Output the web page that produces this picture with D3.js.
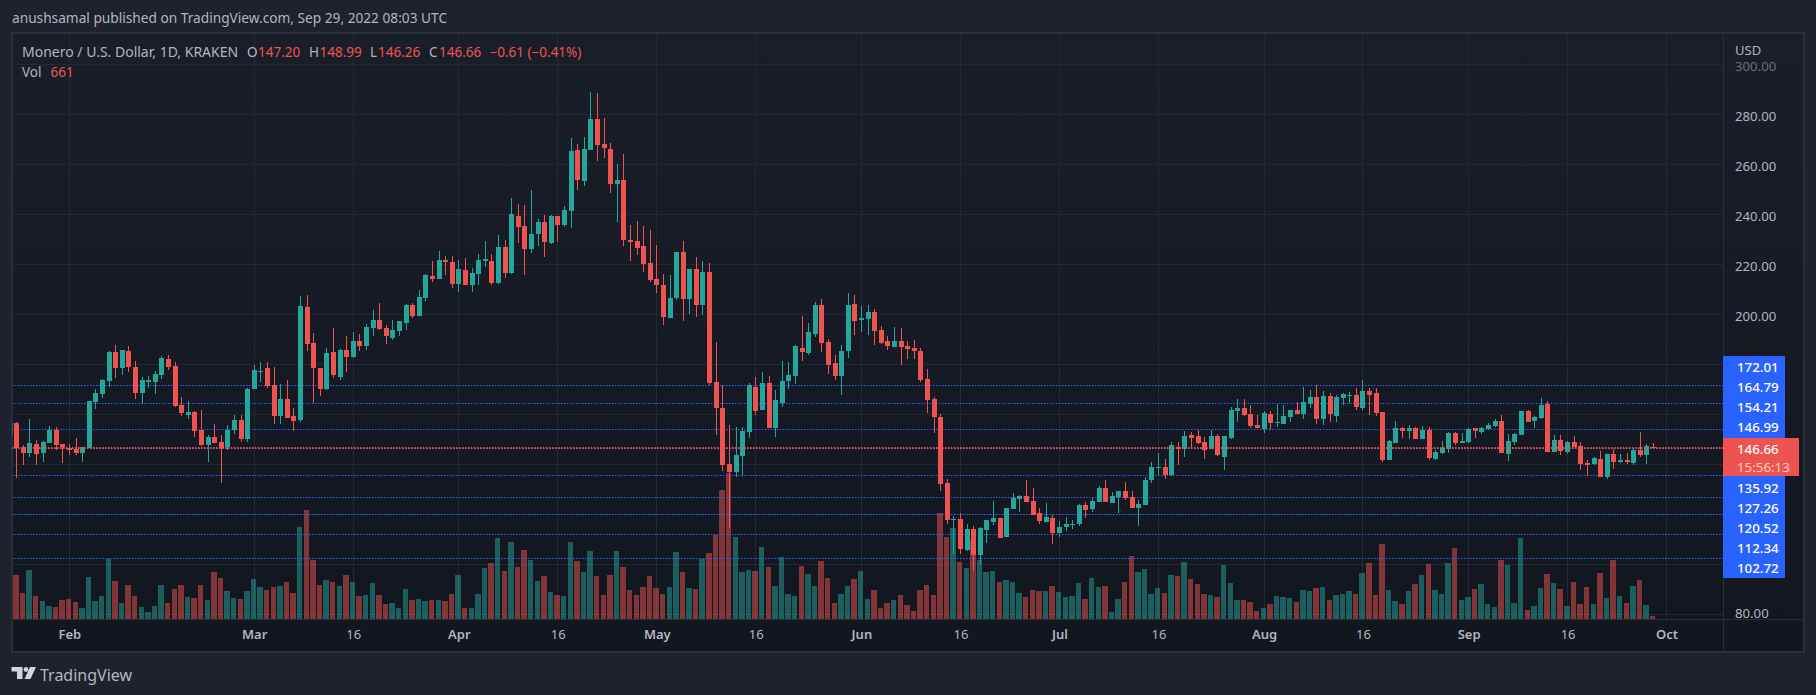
<!DOCTYPE html>
<html>
<head>
<meta charset="utf-8">
<script src="https://cdn.jsdelivr.net/npm/d3@7"></script>
<style>
  html, body { margin: 0; padding: 0; background: #1e222d; overflow: hidden; }
  text { font-family: "Noto Sans", sans-serif; }
</style>
</head>
<body>
<svg id="chart" width="1816" height="695"></svg>
<script>
// daily candles, first one is Jan 23 2022 (only a sliver of it shows)
var opens = [
  152, 156.8, 147.2, 144.8, 148.4, 144.8, 148.8, 154, 148.4, 146.8,
  146.4, 144.8, 146.8, 165.2, 168.4, 173.6, 185.2, 178.8, 185.6, 179.2,
  168.8, 173.2, 173.2, 176, 182.4, 179.6, 164, 160, 161.2, 154,
  148, 151.2, 149.2, 147.2, 154, 158, 150.4, 170.4, 177.2, 178.8,
  172, 159.6, 166.4, 159.6, 158, 203.2, 188.8, 178.8, 170.4, 185.2,
  175.2, 186, 183.2, 189.6, 187.6, 194.8, 198, 194.8, 190.8, 193.6,
  196.8, 204, 199.6, 206.8, 215.6, 214.4, 222, 221.2, 212.4, 218,
  212, 216.4, 221.6, 221.6, 212.8, 227.2, 216.8, 239.6, 235.6, 226.4,
  232.4, 237.2, 228.8, 239.6, 236, 241.6, 266, 253.6, 266, 278.4,
  268.4, 266.4, 252.4, 254, 230, 229.6, 227.6, 220.8, 214.4, 212,
  198.8, 206.8, 225.2, 206.4, 218.4, 204, 217.2, 173.2, 162.8, 140.4,
  137.2, 143.6, 153.2, 171.2, 162, 172.8, 154.8, 164.7, 173.6, 175.6,
  186.8, 184.8, 192.4, 204, 189.2, 180.8, 175.6, 185.6, 204.4, 198,
  198.4, 201.2, 194, 189.6, 187.2, 189.6, 187.6, 186.8, 185.6, 174.4,
  166.4, 159.2, 132.8, 118, 118.4, 106, 114.4, 104, 114, 117.2,
  118.8, 111.2, 122.4, 126.4, 127.6, 125.6, 120.8, 117.2, 118.8, 112.8,
  115.2, 116, 116.4, 124, 122.4, 125.2, 130.8, 124.8, 127.2, 129.6,
  127.2, 122.8, 124, 134, 138.8, 139.2, 136, 147.2, 146.4, 152,
  151.6, 149.2, 146.4, 151.6, 143.2, 150.8, 161.6, 162.8, 160.4, 156,
  154.4, 160.4, 156.8, 156.4, 159.2, 162, 160.4, 164.4, 167.2, 158.4,
  167.6, 159.6, 166.8, 167.6, 168, 162.8, 169.6, 168.8, 161.2, 142,
  148.8, 154.8, 153.6, 154.8, 150.4, 154, 142.4, 144.8, 146.4, 152.8,
  148.8, 149.2, 154.8, 153.2, 154.4, 155.6, 157.6, 144.4, 149.2, 152,
  161.6, 157.6, 158.8, 164.4, 145.2, 150, 145.2, 149.2, 147.6, 140.8,
  140.4, 142.4, 135.2, 144.4, 141.2, 142, 140.8, 146, 144, 147.2
];
var closes = [
  156.8, 146.7, 144.8, 148.8, 144.4, 149.2, 154, 148, 147.2, 146,
  144.8, 147.2, 165.6, 168.8, 174, 185.2, 178.8, 186, 179.2, 168.8,
  174, 174, 176.4, 182.8, 179.2, 163.6, 160.8, 161.2, 153.6, 148,
  151.2, 148.8, 146.8, 154, 158, 150.4, 170.4, 178, 177.6, 171.6,
  159.6, 166.4, 158.8, 157.6, 203.6, 188.4, 178.8, 170.4, 184.8, 176,
  186, 183.2, 189.6, 187.6, 195.2, 198, 194.4, 191.6, 194, 197.6,
  204, 199.6, 207.2, 216, 214.4, 222, 221.2, 212.4, 218.4, 212,
  216.8, 222, 222.4, 212.8, 227.2, 216.8, 240.4, 235.2, 226.4, 232.4,
  237.2, 229.2, 239.6, 236, 242, 265.6, 254, 266.4, 278.4, 268,
  266.8, 252.4, 254, 230, 229.2, 226.8, 220.4, 214, 212, 199.2,
  206.8, 225.2, 206.4, 218.4, 204, 217.2, 172.8, 162.8, 140, 137.2,
  144, 153.6, 172, 161.6, 172.8, 154.8, 166, 173.6, 176, 187.6,
  185.2, 193.2, 204, 188.8, 180, 175.6, 185.6, 204, 197.6, 198.8,
  201.2, 193.6, 188.8, 187.6, 189.6, 187.2, 186.4, 185.6, 174, 166,
  159.2, 132.4, 118, 118.4, 106.4, 114.4, 104, 114.8, 118, 118.8,
  110.8, 122.8, 126.8, 127.6, 125.2, 120, 117.6, 119.2, 112.8, 115.2,
  116.4, 116.4, 124, 122, 125.6, 130.8, 125.2, 127.6, 129.6, 126.8,
  122.8, 124.4, 134, 139.2, 139.2, 136, 148, 146.4, 151.6, 150.8,
  148.8, 146, 151.6, 144, 151.6, 162, 162.8, 160, 155.6, 154.8,
  160.8, 156.8, 157.2, 159.6, 162, 160.4, 165.2, 167.2, 158.4, 167.6,
  160.4, 167.2, 168.4, 168, 163.2, 169.6, 168, 160.8, 142, 149.6,
  154.8, 153.6, 154.8, 150.4, 154, 142.8, 145.2, 146.8, 152.8, 148.8,
  149.6, 154.4, 153.6, 154.8, 156, 157.6, 144.8, 149.6, 152.4, 161.6,
  157.2, 159.2, 164, 145.2, 150, 145.6, 149.2, 147.2, 140.4, 140,
  142.8, 135.2, 144.4, 141.2, 142, 141.2, 146, 144, 147.6, 146.66
];
var highs = [
  157.5, 157.2, 148, 158.4, 150, 149.6, 155.6, 155.2, 148.4, 148.4,
  150.8, 147.2, 165.6, 170.4, 174.4, 185.6, 188, 186, 187.6, 181.6,
  175.2, 175.6, 177.6, 183.6, 184, 181.2, 167.2, 165.6, 161.6, 162,
  152, 156.4, 152, 156, 160, 160, 170.8, 180, 181.2, 181.2,
  179.2, 172.4, 174, 162.8, 207.6, 208, 192.8, 178.8, 186.8, 194.8,
  186.4, 191.6, 193.2, 192.4, 196.4, 202, 204.8, 196, 198, 197.6,
  204.4, 204.8, 210, 216.4, 221.6, 225.6, 223.6, 223.6, 222, 222.8,
  218.8, 224.4, 229.6, 224.4, 232, 230, 246.8, 244.4, 244, 250,
  238.4, 240, 240, 239.6, 243.6, 270.8, 268.4, 271.2, 289.2, 288.8,
  278.8, 268.8, 260.4, 264.4, 236, 237.6, 235.6, 234, 228, 216.4,
  216, 225.2, 229.6, 218.4, 223.2, 221.6, 220.8, 189.2, 172, 156,
  155.2, 155.2, 172.8, 175.2, 177.2, 175.6, 170, 181.6, 181.2, 188,
  199.6, 196.8, 205.2, 206.4, 190.4, 184, 188, 208.8, 208, 203.6,
  204, 202.4, 195.6, 191.6, 195.2, 194.8, 189.6, 190, 186.8, 178.4,
  167.2, 160.4, 134.4, 119.6, 120.8, 116.4, 115.6, 115.2, 118, 125.6,
  118.8, 122.8, 128.8, 128, 134, 130.8, 122.8, 124.8, 120, 117.6,
  119.2, 118, 124.4, 125.2, 126.8, 131.6, 134, 129.2, 129.6, 133.2,
  129.6, 126, 135.2, 141.2, 144.8, 142.4, 149.2, 149.2, 153.6, 153.2,
  154, 151.2, 154, 152.4, 151.6, 163.2, 166.4, 166.4, 164, 160,
  161.6, 161.6, 164.4, 164, 162, 165.2, 171.2, 170, 172, 169.6,
  168.8, 168, 168.8, 169.2, 170.8, 174, 170.8, 170.8, 161.2, 150,
  157.6, 155.2, 156, 155.2, 155.6, 155.2, 146, 149.6, 153.2, 153.2,
  152.8, 154.8, 154.8, 155.2, 156.8, 158.4, 160, 152.4, 152.8, 161.6,
  162, 159.6, 166.8, 165.6, 152, 152, 149.6, 151.6, 149.2, 142,
  143.2, 145.6, 144.4, 146.4, 144.4, 144.8, 146.4, 153.2, 148.4, 148.99
];
var lows = [
  150, 134.9, 140, 143.2, 140, 141.2, 148.8, 146, 140.8, 144,
  144, 141.2, 146.8, 162.4, 166.8, 171.2, 174.8, 176, 177.2, 166.4,
  164.4, 170.8, 168.4, 174.4, 178, 163.2, 159.6, 158.4, 151.2, 147.6,
  141.2, 148.8, 132.8, 146, 152.4, 149.2, 149.2, 170.4, 173.2, 170.8,
  156.4, 156.4, 158.8, 153.6, 157.2, 185.6, 164.8, 167.6, 170, 174.8,
  174, 177.2, 182.8, 185.6, 186, 191.6, 194, 188.4, 190, 191.6,
  194, 198.8, 199.6, 205.6, 213.2, 214.4, 216, 210.8, 209.2, 212,
  209.2, 212, 219.2, 212, 212.4, 214.8, 216.4, 228.8, 216, 224.8,
  227.6, 223.2, 228.4, 229.2, 235.2, 234.8, 250, 251.6, 266, 261.6,
  262.8, 248.8, 237.2, 227.6, 221.6, 224, 217.2, 213.2, 208.8, 196,
  198.8, 206, 197.6, 200.4, 199.2, 200, 172, 152, 137.6, 114.8,
  135.2, 135.6, 150.8, 160, 162, 154.8, 151.2, 163.2, 170.4, 172.4,
  181.6, 184, 191.2, 185.2, 176.4, 174, 168, 182.8, 192, 193.2,
  192, 188, 188.4, 186, 187.2, 180, 182.4, 182.4, 173.2, 160.8,
  152.8, 129.6, 116.4, 104.4, 104.4, 105.6, 97.6, 100.4, 108.8, 116,
  110.8, 111.2, 122.4, 121.2, 125.2, 120, 116.4, 117.2, 108.4, 111.2,
  113.6, 114.4, 115.6, 118.8, 121.2, 125.2, 125.2, 124.8, 120.8, 126,
  122.8, 115.6, 124, 132.8, 135.6, 134.4, 135.6, 140, 143.2, 146.8,
  148.4, 142.4, 146.4, 143.6, 138, 150.4, 157.2, 159.6, 154.8, 154.8,
  152.8, 154, 155.2, 156.4, 157.2, 160.4, 158.4, 162.8, 156.4, 156,
  157.2, 157.2, 164, 164.8, 162, 162, 160, 159.6, 141.2, 142,
  148.8, 150.8, 150.4, 150.4, 150.4, 142, 142, 144.4, 144.8, 148,
  148.8, 148.8, 150.8, 152.4, 154, 155.2, 144.8, 141.6, 148, 152,
  157.2, 154.8, 158.4, 145.2, 145.2, 144, 144.4, 147.2, 138, 135.6,
  140, 135.2, 134.4, 138.4, 140.8, 140.4, 140, 143.2, 140.4, 146.26
];
var volumes = [
  5000, 8870, 5270, 9870, 4670, 3670, 2670, 2470, 3870, 4070,
  3470, 2270, 8470, 3670, 4670, 12070, 7670, 3270, 6870, 4670,
  2470, 1470, 2670, 6870, 3270, 6070, 6870, 4470, 4270, 6870,
  3870, 9470, 8270, 5670, 4270, 4070, 5670, 8070, 6470, 5870,
  6470, 6670, 7470, 5270, 18470, 21870, 11870, 6870, 7870, 7470,
  6670, 8870, 7470, 4670, 4870, 7270, 4870, 3070, 3270, 2270,
  6070, 3870, 4070, 3670, 3870, 3870, 3670, 5070, 8870, 2270,
  2270, 5070, 10270, 11270, 16270, 9670, 15470, 10470, 13870, 11870,
  7670, 8670, 5470, 4870, 4670, 15470, 11670, 9470, 13670, 8670,
  4870, 8870, 13670, 10470, 5870, 4870, 6470, 8670, 6270, 5070,
  6470, 13470, 9470, 6270, 6070, 12070, 13270, 16870, 25870, 29270,
  16470, 9470, 9870, 9670, 14470, 10470, 6670, 12470, 5070, 4670,
  10670, 9070, 6670, 11670, 8270, 3270, 5070, 6670, 8070, 9670,
  4070, 5870, 2270, 3270, 3870, 4870, 2870, 1670, 5870, 6870,
  4870, 21130, 16470, 18270, 11470, 10270, 15870, 11870, 9470, 9670,
  7470, 7870, 7470, 5270, 4470, 5870, 5670, 5670, 6670, 5470,
  4470, 4670, 7270, 4070, 8270, 6470, 6670, 1470, 4070, 7470,
  12670, 9470, 10070, 5070, 6270, 5270, 8870, 8670, 11470, 8070,
  7070, 5070, 4870, 4470, 10870, 7270, 3870, 3870, 3470, 1670,
  2270, 3070, 4670, 4470, 4270, 3470, 5870, 5670, 6270, 6470,
  3870, 4870, 5070, 5670, 5070, 9270, 11270, 4870, 15070, 5870,
  3670, 3070, 5670, 7070, 8870, 11070, 5870, 5070, 11270, 14270,
  3870, 4470, 6070, 7070, 3070, 2470, 11870, 10870, 3270, 16270,
  1870, 2670, 6270, 9070, 7270, 6070, 2670, 7470, 3070, 6470,
  3070, 9270, 4270, 11870, 4670, 3270, 6670, 7870, 2870, 661
];
// tick labels, day = days after Jan 23
var tickDays = [9, 37, 52, 68, 83, 98, 113, 129, 144, 159, 174, 190, 205, 221, 236, 251];
var tickNames = ["Feb", "Mar", "16", "Apr", "16", "May", "16", "Jun", "16", "Jul", "16", "Aug", "16", "Sep", "16", "Oct"];
var priceTicks = [80, 100, 120, 140, 160, 180, 200, 220, 240, 260, 280, 300];
// 100 to 180 sit behind the blue label stack
var priceLabels = [80, 200, 220, 240, 260, 280, 300];
var priceLines = [172.01, 164.79, 154.21, 146.99, 135.92, 127.26, 120.52, 112.34, 102.72];
var lastPrice = 146.66;
var countdown = "15:56:13";
var legendParts = [
  { t: "Monero / U.S. Dollar, 1D, KRAKEN", x: 22, c: "grey", s: 14 },
  { t: "O", x: 247, c: "grey", s: 13.5 }, { t: "147.20", x: 258, c: "red", s: 13.5 },
  { t: "H", x: 309, c: "grey", s: 13.5 }, { t: "148.99", x: 319.5, c: "red", s: 13.5 },
  { t: "L", x: 370, c: "grey", s: 13.5 }, { t: "146.26", x: 378, c: "red", s: 13.5 },
  { t: "C", x: 429, c: "grey", s: 13.5 }, { t: "146.66", x: 439, c: "red", s: 13.5 },
  { t: "\u22120.61 (\u22120.41%)", x: 489.5, c: "red", s: 13.5 }
];

const teal = "#26a69a";
const red = "#ef5350";
const grey = "#b2b5be";
const blue = "#2962ff";
const gridColor = "#242833";
const borderColor = "#2a2e39";

// panel box
const boxLeft = 12, boxRight = 1804, boxTop = 33, boxBottom = 652;
const axisX = 1723, axisY = 619;

var svg = d3.select("#chart");
var defs = svg.append("defs");
var grad = defs.append("linearGradient").attr("id", "panelFill").attr("x1", 0).attr("x2", 0).attr("y1", 0).attr("y2", 1);
grad.append("stop").attr("offset", "0%").attr("stop-color", "#1a1e29");
grad.append("stop").attr("offset", "100%").attr("stop-color", "#12161f");
defs.append("clipPath").attr("id", "plotClip").append("rect")
  .attr("x", boxLeft + 0.5).attr("y", boxTop + 1).attr("width", axisX - boxLeft - 0.5).attr("height", axisY - boxTop - 1);

var x = d3.scaleLinear().domain([0, 250]).range([10, 1660]);
var y = d3.scaleLinear().domain([80, 300]).range([615, 65]);
var yVol = d3.scaleLinear().domain([0, 100000]).range([axisY, axisY - 500]);

svg.append("text").attr("x", 12).attr("y", 23).attr("fill", grey).attr("font-size", 13.7)
  .text("anushsamal published on TradingView.com, Sep 29, 2022 08:03 UTC");

svg.append("rect").attr("x", boxLeft).attr("y", boxTop).attr("width", boxRight - boxLeft).attr("height", boxBottom - boxTop)
  .attr("fill", "url(#panelFill)").attr("stroke", borderColor).attr("stroke-width", 2);

var plot = svg.append("g").attr("clip-path", "url(#plotClip)").attr("shape-rendering", "crispEdges");

// grid
plot.selectAll("line.vgrid").data(tickDays).join("line").attr("class", "vgrid")
  .attr("x1", d => Math.floor(x(d)) + 0.5).attr("x2", d => Math.floor(x(d)) + 0.5)
  .attr("y1", boxTop).attr("y2", axisY).attr("stroke", gridColor);
plot.selectAll("line.hgrid").data(priceTicks).join("line").attr("class", "hgrid")
  .attr("x1", boxLeft).attr("x2", axisX)
  .attr("y1", d => Math.round(y(d)) - 0.5).attr("y2", d => Math.round(y(d)) - 0.5).attr("stroke", gridColor);

// volume underneath the candles
var idx = d3.range(opens.length);
var upDay = i => closes[i] >= opens[i];
plot.selectAll("rect.vol").data(idx).join("rect").attr("class", "vol")
  .attr("x", i => Math.floor(x(i) - 3))
  .attr("width", i => Math.floor(x(i) + 2.5) - Math.floor(x(i) - 3))
  .attr("y", i => Math.round(yVol(volumes[i])))
  .attr("height", i => axisY - Math.round(yVol(volumes[i])))
  .attr("fill", i => upDay(i) ? teal : red).attr("opacity", 0.5);

// the horizontal levels, with red last price on top
plot.selectAll("line.level").data(priceLines).join("line").attr("class", "level")
  .attr("x1", boxLeft).attr("x2", axisX)
  .attr("y1", d => Math.round(y(d)) + 0.5).attr("y2", d => Math.round(y(d)) + 0.5)
  .attr("stroke", blue).attr("stroke-dasharray", "1.5 1.5").attr("shape-rendering", "auto");

// wicks and bodies
plot.selectAll("rect.wick").data(idx).join("rect").attr("class", "wick")
  .attr("x", i => Math.floor(x(i))).attr("width", 1)
  .attr("y", i => Math.round(y(highs[i])))
  .attr("height", i => Math.max(1, Math.round(y(lows[i])) - Math.round(y(highs[i]))))
  .attr("fill", i => upDay(i) ? teal : red);
plot.selectAll("rect.body").data(idx).join("rect").attr("class", "body")
  .attr("x", i => Math.floor(x(i)) - 2).attr("width", 5)
  .attr("y", i => Math.round(y(Math.max(opens[i], closes[i]))))
  .attr("height", i => Math.max(1, Math.round(y(Math.min(opens[i], closes[i]))) - Math.round(y(Math.max(opens[i], closes[i])))))
  .attr("fill", i => upDay(i) ? teal : red);

plot.append("line").attr("x1", boxLeft).attr("x2", axisX)
  .attr("y1", Math.round(y(lastPrice))).attr("y2", Math.round(y(lastPrice)))
  .attr("stroke", red).attr("stroke-width", 2).attr("stroke-dasharray", "1.5 1.5").attr("shape-rendering", "auto");

// axes
var priceAxis = d3.axisRight(y).tickValues(priceLabels).tickFormat(d3.format(".2f")).tickSize(0).tickPadding(12);
var priceG = svg.append("g").attr("transform", "translate(" + axisX + ",0)").call(priceAxis);
priceG.select(".domain").remove();
priceG.selectAll("text").attr("fill", grey).attr("font-size", 13.2).attr("font-family", "Noto Sans")
  .attr("dy", d => d === 80 ? "2.6px" : "5.6px")
  .attr("fill-opacity", d => d === 300 ? 0.55 : 1);

var timeAxis = d3.axisBottom(x).tickValues(tickDays).tickFormat((d, i) => tickNames[i]).tickSize(0).tickPadding(11);
var timeG = svg.append("g").attr("transform", "translate(0," + axisY + ")").call(timeAxis);
timeG.select(".domain").remove();
timeG.selectAll("text").attr("fill", grey).attr("font-size", 13).attr("font-family", "Noto Sans")
  .attr("font-weight", (d, i) => tickNames[i] === "16" ? 400 : 600);

// covers the top of 300.00 the way the USD header does
svg.append("rect").attr("x", axisX + 1).attr("y", boxTop + 1).attr("width", boxRight - axisX - 2).attr("height", 28).attr("fill", "#1a1e29");
svg.append("text").attr("x", 1735).attr("y", 55).attr("fill", grey).attr("font-size", 13).text("USD");

svg.append("line").attr("x1", boxLeft).attr("x2", boxRight).attr("y1", axisY + 0.5).attr("y2", axisY + 0.5)
  .attr("stroke", borderColor).attr("shape-rendering", "crispEdges");
svg.append("line").attr("x1", axisX + 0.5).attr("x2", axisX + 0.5).attr("y1", boxTop).attr("y2", boxBottom)
  .attr("stroke", borderColor).attr("shape-rendering", "crispEdges");

// blue stack of level labels, red box sits in the middle and takes two rows
var rowStep = 20.1, firstRow = 367;
var rows = [];
priceLines.forEach(function (p) {
  var slot = rows.length;
  if (p < lastPrice) slot += 2;
  rows.push({ p: p, y: firstRow + slot * rowStep });
});
svg.append("rect").attr("x", axisX).attr("y", firstRow - 11).attr("width", 62).attr("height", 222)
  .attr("fill", blue).attr("rx", 1);
svg.selectAll("text.levelLabel").data(rows).join("text").attr("class", "levelLabel")
  .attr("x", 1737).attr("y", d => d.y + 5).attr("fill", "#ffffff").attr("font-size", 13.3).attr("font-weight", 500)
  .text(d => d3.format(".2f")(d.p));
svg.append("rect").attr("x", axisX).attr("y", 438).attr("width", 76).attr("height", 38).attr("fill", red).attr("rx", 1);
svg.append("text").attr("x", 1737).attr("y", 454).attr("fill", "#ffffff").attr("font-size", 13.3).attr("font-weight", 500)
  .text(d3.format(".2f")(lastPrice));
svg.append("text").attr("x", 1737).attr("y", 472).attr("fill", "#ffffff").attr("fill-opacity", 0.72).attr("font-size", 13.3)
  .text(countdown);

// legend
svg.selectAll("text.legend").data(legendParts).join("text").attr("class", "legend")
  .attr("x", d => d.x).attr("y", 57).attr("font-size", d => d.s)
  .attr("fill", d => d.c === "red" ? red : grey).text(d => d.t);
svg.append("text").attr("x", 22).attr("y", 77).attr("font-size", 13.5).attr("fill", grey).text("Vol");
svg.append("text").attr("x", 50.5).attr("y", 77).attr("font-size", 13.5).attr("fill", red).text(volumes[volumes.length - 1]);

// footer logo and name
var logo = svg.append("g").attr("fill", "#d1d4dc");
logo.append("path").attr("d", "M11.5 667H22.5V679H17V671.5H11.5Z");
logo.append("circle").attr("cx", 26).attr("cy", 669.5).attr("r", 2.4);
logo.append("path").attr("d", "M30 667H36L30.5 679H24.5Z");
svg.append("text").attr("x", 40).attr("y", 681).attr("font-size", 16).attr("fill", grey).text("TradingView");
</script>
</body>
</html>
